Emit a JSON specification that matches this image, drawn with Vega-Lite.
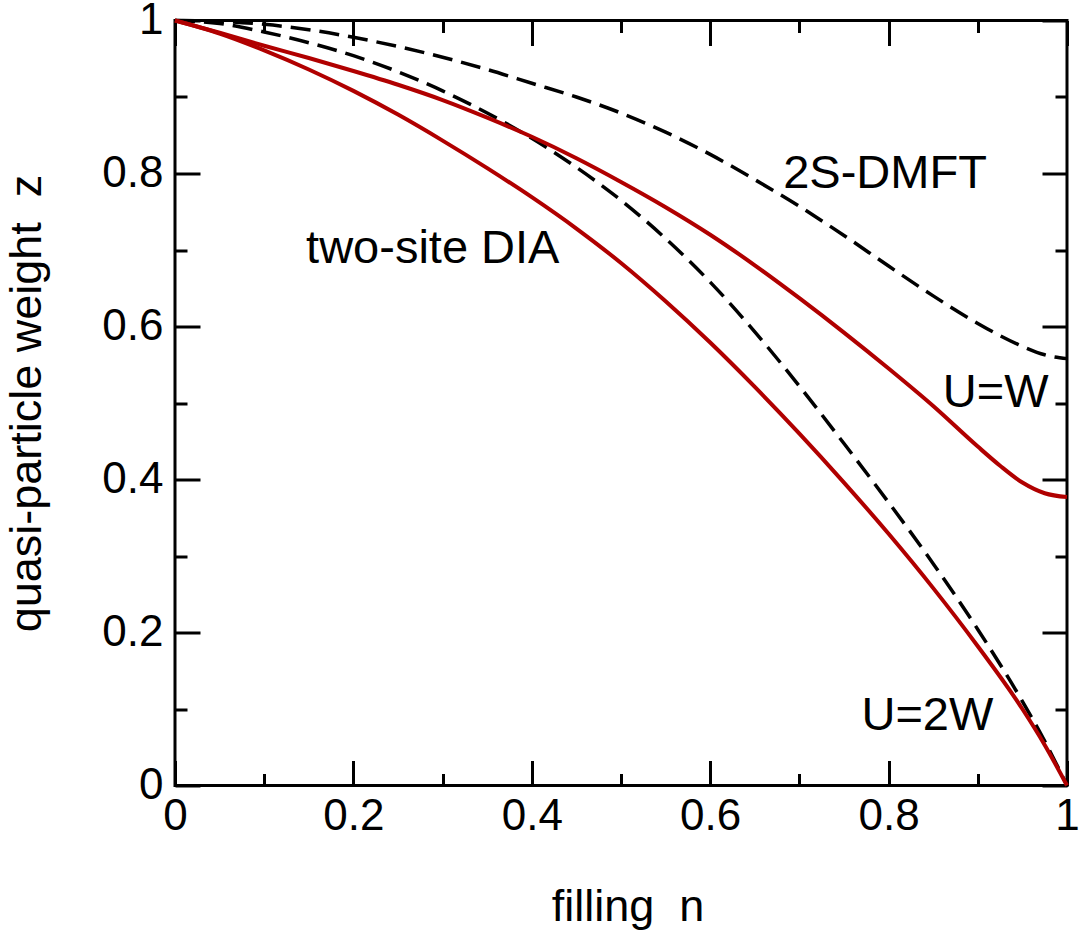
{
  "$schema": "https://vega.github.io/schema/vega-lite/v6.json",
  "width": 892,
  "height": 765,
  "autosize": {"type": "none"},
  "padding": {"left": 175, "top": 20.5, "right": 12, "bottom": 147.5},
  "background": "white",
  "config": {
    "view": {"stroke": "black", "strokeWidth": 3},
    "font": "Liberation Sans",
    "axis": {"labelFont": "Liberation Sans", "titleFont": "Liberation Sans", "labelColor": "black", "titleColor": "black", "tickColor": "black", "tickWidth": 3, "grid": false, "domain": false, "titleFontWeight": "normal"}
  },
  "data": {"values": [
    {"s": "dmftW", "n": 0, "z": 1}, {"s": "dmftW", "n": 0.05, "z": 0.999}, {"s": "dmftW", "n": 0.1, "z": 0.995}, {"s": "dmftW", "n": 0.15, "z": 0.988}, {"s": "dmftW", "n": 0.2, "z": 0.978}, {"s": "dmftW", "n": 0.25, "z": 0.966}, {"s": "dmftW", "n": 0.3, "z": 0.952}, {"s": "dmftW", "n": 0.35, "z": 0.936}, {"s": "dmftW", "n": 0.4, "z": 0.918}, {"s": "dmftW", "n": 0.45, "z": 0.900}, {"s": "dmftW", "n": 0.5, "z": 0.879}, {"s": "dmftW", "n": 0.55, "z": 0.854}, {"s": "dmftW", "n": 0.6, "z": 0.825}, {"s": "dmftW", "n": 0.65, "z": 0.792}, {"s": "dmftW", "n": 0.7, "z": 0.757}, {"s": "dmftW", "n": 0.75, "z": 0.719}, {"s": "dmftW", "n": 0.8, "z": 0.679}, {"s": "dmftW", "n": 0.85, "z": 0.640}, {"s": "dmftW", "n": 0.9, "z": 0.604}, {"s": "dmftW", "n": 0.925, "z": 0.588}, {"s": "dmftW", "n": 0.95, "z": 0.574}, {"s": "dmftW", "n": 0.975, "z": 0.563}, {"s": "dmftW", "n": 1, "z": 0.558},
    {"s": "dmft2W", "n": 0, "z": 1}, {"s": "dmft2W", "n": 0.05, "z": 0.996}, {"s": "dmft2W", "n": 0.1, "z": 0.985}, {"s": "dmft2W", "n": 0.15, "z": 0.971}, {"s": "dmft2W", "n": 0.2, "z": 0.954}, {"s": "dmft2W", "n": 0.25, "z": 0.933}, {"s": "dmft2W", "n": 0.3, "z": 0.908}, {"s": "dmft2W", "n": 0.35, "z": 0.879}, {"s": "dmft2W", "n": 0.4, "z": 0.846}, {"s": "dmft2W", "n": 0.45, "z": 0.808}, {"s": "dmft2W", "n": 0.5, "z": 0.765}, {"s": "dmft2W", "n": 0.55, "z": 0.715}, {"s": "dmft2W", "n": 0.6, "z": 0.658}, {"s": "dmft2W", "n": 0.65, "z": 0.593}, {"s": "dmft2W", "n": 0.7, "z": 0.522}, {"s": "dmft2W", "n": 0.75, "z": 0.447}, {"s": "dmft2W", "n": 0.8, "z": 0.370}, {"s": "dmft2W", "n": 0.85, "z": 0.290}, {"s": "dmft2W", "n": 0.9, "z": 0.204}, {"s": "dmft2W", "n": 0.95, "z": 0.110}, {"s": "dmft2W", "n": 0.975, "z": 0.058}, {"s": "dmft2W", "n": 1, "z": 0},
    {"s": "diaW", "n": 0, "z": 1}, {"s": "diaW", "n": 0.05, "z": 0.984}, {"s": "diaW", "n": 0.1, "z": 0.967}, {"s": "diaW", "n": 0.15, "z": 0.951}, {"s": "diaW", "n": 0.2, "z": 0.934}, {"s": "diaW", "n": 0.25, "z": 0.916}, {"s": "diaW", "n": 0.3, "z": 0.896}, {"s": "diaW", "n": 0.35, "z": 0.873}, {"s": "diaW", "n": 0.4, "z": 0.848}, {"s": "diaW", "n": 0.45, "z": 0.820}, {"s": "diaW", "n": 0.5, "z": 0.789}, {"s": "diaW", "n": 0.55, "z": 0.756}, {"s": "diaW", "n": 0.6, "z": 0.720}, {"s": "diaW", "n": 0.65, "z": 0.680}, {"s": "diaW", "n": 0.7, "z": 0.637}, {"s": "diaW", "n": 0.75, "z": 0.592}, {"s": "diaW", "n": 0.8, "z": 0.545}, {"s": "diaW", "n": 0.85, "z": 0.496}, {"s": "diaW", "n": 0.9, "z": 0.443}, {"s": "diaW", "n": 0.925, "z": 0.418}, {"s": "diaW", "n": 0.95, "z": 0.396}, {"s": "diaW", "n": 0.975, "z": 0.382}, {"s": "diaW", "n": 1, "z": 0.377},
    {"s": "dia2W", "n": 0, "z": 1}, {"s": "dia2W", "n": 0.05, "z": 0.983}, {"s": "dia2W", "n": 0.1, "z": 0.961}, {"s": "dia2W", "n": 0.15, "z": 0.936}, {"s": "dia2W", "n": 0.2, "z": 0.908}, {"s": "dia2W", "n": 0.25, "z": 0.877}, {"s": "dia2W", "n": 0.3, "z": 0.843}, {"s": "dia2W", "n": 0.35, "z": 0.807}, {"s": "dia2W", "n": 0.4, "z": 0.769}, {"s": "dia2W", "n": 0.45, "z": 0.728}, {"s": "dia2W", "n": 0.5, "z": 0.683}, {"s": "dia2W", "n": 0.55, "z": 0.633}, {"s": "dia2W", "n": 0.6, "z": 0.579}, {"s": "dia2W", "n": 0.65, "z": 0.521}, {"s": "dia2W", "n": 0.7, "z": 0.460}, {"s": "dia2W", "n": 0.75, "z": 0.396}, {"s": "dia2W", "n": 0.8, "z": 0.329}, {"s": "dia2W", "n": 0.85, "z": 0.258}, {"s": "dia2W", "n": 0.9, "z": 0.182}, {"s": "dia2W", "n": 0.95, "z": 0.100}, {"s": "dia2W", "n": 0.975, "z": 0.053}, {"s": "dia2W", "n": 1, "z": 0}
  ]},
  "resolve": {"axis": {"x": "independent", "y": "independent"}},
  "layer": [
    {
      "transform": [{"filter": {"field": "s", "equal": "dmftW"}}],
      "mark": {"type": "line", "color": "black", "strokeWidth": 3.5, "strokeDash": [20, 9], "interpolate": "monotone"},
      "encoding": {
        "x": {"field": "n", "type": "quantitative", "scale": {"domain": [0, 1], "nice": false, "zero": false},
          "axis": {"orient": "bottom", "values": [0, 0.2, 0.4, 0.6, 0.8, 1], "tickSize": -25, "labelPadding": 34, "labelFontSize": 44, "format": ".1~f", "labelFlush": false, "labelOverlap": false, "labelBound": false,
            "title": "filling\u00a0\u00a0n", "titleFontSize": 45, "titleX": 452.5, "titleY": 134.5, "titleBaseline": "alphabetic", "titleAlign": "center", "titleAngle": 0}},
        "y": {"field": "z", "type": "quantitative", "scale": {"domain": [0, 1], "nice": false, "zero": false},
          "axis": {"orient": "left", "values": [0, 0.2, 0.4, 0.6, 0.8, 1], "tickSize": -25, "labelPadding": 37, "labelFontSize": 44, "format": ".1~f", "labelFlush": false, "labelOverlap": false, "labelBound": false,
            "title": "quasi-particle\u00a0weight\u00a0\u00a0z", "titleFontSize": 45, "titleX": -135, "titleY": 382.5, "titleBaseline": "alphabetic", "titleAlign": "center", "titleAngle": 270}}
      }
    },
    {
      "transform": [{"filter": {"field": "s", "equal": "dmft2W"}}],
      "mark": {"type": "line", "color": "black", "strokeWidth": 3.5, "strokeDash": [20, 9], "interpolate": "monotone"},
      "encoding": {
        "x": {"field": "n", "type": "quantitative", "axis": {"orient": "bottom", "values": [0.1, 0.3, 0.5, 0.7, 0.9], "tickSize": -12, "labels": false, "title": null}},
        "y": {"field": "z", "type": "quantitative", "axis": {"orient": "left", "values": [0.1, 0.3, 0.5, 0.7, 0.9], "tickSize": -12, "labels": false, "title": null}}
      }
    },
    {
      "transform": [{"filter": {"field": "s", "equal": "diaW"}}],
      "mark": {"type": "line", "color": "#b00000", "strokeWidth": 4, "interpolate": "monotone"},
      "encoding": {
        "x": {"field": "n", "type": "quantitative", "axis": {"orient": "top", "values": [0, 0.2, 0.4, 0.6, 0.8, 1], "tickSize": -25, "labels": false, "title": null}},
        "y": {"field": "z", "type": "quantitative", "axis": {"orient": "right", "values": [0, 0.2, 0.4, 0.6, 0.8, 1], "tickSize": -25, "labels": false, "title": null}}
      }
    },
    {
      "transform": [{"filter": {"field": "s", "equal": "dia2W"}}],
      "mark": {"type": "line", "color": "#b00000", "strokeWidth": 4, "interpolate": "monotone"},
      "encoding": {
        "x": {"field": "n", "type": "quantitative", "axis": {"orient": "top", "values": [0.1, 0.3, 0.5, 0.7, 0.9], "tickSize": -12, "labels": false, "title": null}},
        "y": {"field": "z", "type": "quantitative", "axis": {"orient": "right", "values": [0.1, 0.3, 0.5, 0.7, 0.9], "tickSize": -12, "labels": false, "title": null}}
      }
    },
    {
      "data": {"values": [
        {"n": 0.796, "z": 0.781, "label": "2S-DMFT"},
        {"n": 0.289, "z": 0.683, "label": "two-site DIA"},
        {"n": 0.920, "z": 0.495, "label": "U=W"},
        {"n": 0.8435, "z": 0.0725, "label": "U=2W"}
      ]},
      "mark": {"type": "text", "fontSize": 47, "font": "Liberation Sans", "color": "black", "align": "center", "baseline": "alphabetic"},
      "encoding": {
        "x": {"field": "n", "type": "quantitative", "axis": null},
        "y": {"field": "z", "type": "quantitative", "axis": null},
        "text": {"field": "label"}
      }
    }
  ]
}
